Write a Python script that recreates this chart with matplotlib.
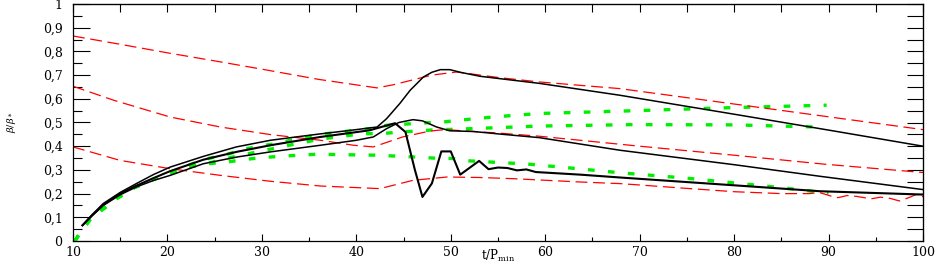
import matplotlib
matplotlib.use("Agg")
import matplotlib.pyplot as plt
from matplotlib.ticker import MultipleLocator, FuncFormatter

plt.rcParams['font.family'] = ['DejaVu Serif']
plt.rcParams['mathtext.fontset'] = 'dejavuserif'

# --- red dashed curves ---
red_top_x = [10, 15, 20, 25, 30, 36, 42.2, 44, 46, 48, 50.6, 52, 55, 59.4, 67.9, 80, 90, 100]
red_top_y = [0.865, 0.83, 0.794, 0.76, 0.725, 0.682, 0.646, 0.66, 0.68, 0.70, 0.713, 0.706, 0.69, 0.671,
             0.643, 0.578, 0.524, 0.47]

red_mid_x = [10, 14.3, 20.3, 25.6, 30.9, 36.2, 39.7, 41.8, 44.9, 47.8, 49.4, 52, 54.9, 59.4, 70, 80, 89.6, 100]
red_mid_y = [0.653, 0.594, 0.523, 0.481, 0.449, 0.425, 0.404, 0.397, 0.439, 0.464, 0.47, 0.463, 0.456, 0.442,
             0.40, 0.362, 0.324, 0.289]

red_bot_x = [10, 15, 20.3, 25.6, 30.9, 36.2, 42.5, 46, 49.6, 53, 56.6, 63.7, 68, 75, 80, 85, 88, 89, 90.3,
             91, 92, 93, 94.5, 95.5, 96.5, 97.5, 98.5, 99.2, 100]
red_bot_y = [0.397, 0.34, 0.305, 0.277, 0.252, 0.232, 0.221, 0.256, 0.27, 0.268, 0.263, 0.249, 0.242, 0.222,
             0.208, 0.20, 0.2, 0.205, 0.189, 0.183, 0.192, 0.188, 0.178, 0.185, 0.18, 0.169, 0.183, 0.195, 0.187]

# --- black solid curves ---
blk_top_x = [11, 12, 13.2, 15, 16.7, 18.5, 20.3, 23.8, 27.3, 30.9, 34.4, 36.2, 40, 42.2, 43.2, 44.6, 45.7,
             47.1, 48, 48.9, 49.9, 51, 53.1, 59.4, 67.9, 80, 90, 100]
blk_top_y = [0.066, 0.11, 0.158, 0.205, 0.242, 0.28, 0.312, 0.357, 0.397, 0.425, 0.443, 0.452, 0.47, 0.481,
             0.516, 0.58, 0.636, 0.692, 0.712, 0.723, 0.723, 0.712, 0.695, 0.665, 0.615, 0.535, 0.468, 0.40]

blk_mid_x = [11, 12, 13.2, 15, 16.7, 18.5, 20.3, 23.8, 27.3, 30.9, 36.2, 40, 41.8, 43.2, 44.5, 46, 47, 48.5,
             49.9, 52.4, 55, 59.4, 67.9, 80, 89.1, 100]
blk_mid_y = [0.066, 0.105, 0.15, 0.195, 0.228, 0.255, 0.277, 0.326, 0.354, 0.376, 0.404, 0.425, 0.439, 0.474,
             0.50, 0.512, 0.507, 0.481, 0.465, 0.462, 0.452, 0.436, 0.383, 0.322, 0.273, 0.217]

blk_jag_x = [11, 12, 13.2, 15, 16.7, 18.5, 20.3, 23.8, 27.3, 30.9, 36.2, 41.4, 43, 44.1, 45.2, 46.2, 47, 48,
             49, 50, 51, 53, 54, 55, 56, 57, 58, 59, 63.7, 67.9, 80, 89.1, 100]
blk_jag_y = [0.066, 0.108, 0.152, 0.2, 0.233, 0.265, 0.295, 0.343, 0.376, 0.404, 0.439, 0.467, 0.485, 0.497,
             0.46, 0.30, 0.186, 0.243, 0.378, 0.378, 0.28, 0.338, 0.303, 0.31, 0.308, 0.298, 0.302, 0.291,
             0.28, 0.268, 0.235, 0.21, 0.196]

# --- green dotted curves ---
grn_top_x = [10.2, 10.7, 11.8, 12.5, 13.4, 14.3, 15.2, 16, 17.3, 18.5, 19.9, 21.3, 22.2, 24, 26.6, 28, 29.8,
             31.6, 33, 34.4, 36.2, 41.4, 43.2, 47, 49.2, 50.7, 55, 59.4, 68.8, 80, 89.8]
grn_top_y = [0.0, 0.031, 0.09, 0.116, 0.141, 0.172, 0.193, 0.217, 0.239, 0.26, 0.281, 0.301, 0.319, 0.345,
             0.369, 0.386, 0.401, 0.411, 0.425, 0.436, 0.45, 0.474, 0.488, 0.498, 0.502, 0.509, 0.525, 0.538,
             0.549, 0.563, 0.573]

grn_mid_x = [10.2, 10.7, 11.8, 12.5, 13.4, 14.3, 15.2, 16, 17.3, 18.5, 19.9, 22, 24.5, 27, 30, 33, 36.2,
             40.7, 42.7, 44.6, 46.5, 48.5, 50.2, 59.4, 69.2, 80, 88.8]
grn_mid_y = [0.0, 0.031, 0.09, 0.116, 0.141, 0.172, 0.193, 0.217, 0.239, 0.26, 0.281, 0.31, 0.33, 0.355,
             0.38, 0.405, 0.43, 0.453, 0.453, 0.46, 0.464, 0.47, 0.471, 0.485, 0.491, 0.49, 0.481]

grn_bot_x = [10.2, 10.7, 11.8, 12.5, 13.4, 14.3, 15.2, 16, 17.3, 18.5, 19.9, 22, 24, 26.3, 28, 30, 31.9,
             33.9, 35.8, 42.2, 46.4, 48.1, 50.2, 52, 58, 61.6, 67.9, 75, 80, 85, 90]
grn_bot_y = [0.0, 0.031, 0.09, 0.116, 0.141, 0.172, 0.193, 0.217, 0.239, 0.26, 0.281, 0.31, 0.325, 0.333,
             0.343, 0.352, 0.357, 0.362, 0.366, 0.362, 0.354, 0.35, 0.348, 0.338, 0.325, 0.312, 0.288, 0.265,
             0.245, 0.225, 0.202]

W, H = 943, 266
fig = plt.figure(figsize=(W / 100, H / 100), dpi=100)
ax = fig.add_axes([73 / W, 25 / H, 850 / W, 237 / H])

green_kw = dict(color="#00ee00", lw=2.4, dashes=(2.0, 4.0), dash_capstyle="butt")
for gx, gy in [(grn_top_x, grn_top_y), (grn_mid_x, grn_mid_y), (grn_bot_x, grn_bot_y)]:
    ax.plot(gx, gy, **green_kw)

red_kw = dict(color="#ff0000", lw=0.9, dashes=(9.5, 4.5))
for rx, ry in [(red_top_x, red_top_y), (red_mid_x, red_mid_y), (red_bot_x, red_bot_y)]:
    ax.plot(rx, ry, **red_kw)

ax.plot(blk_top_x, blk_top_y, color="black", lw=1.1)
ax.plot(blk_mid_x, blk_mid_y, color="black", lw=1.1)
ax.plot(blk_jag_x, blk_jag_y, color="black", lw=1.5)

ax.set_xlim(10, 100)
ax.set_ylim(0, 1)

for s in ax.spines.values():
    s.set_linewidth(0.9)

def ylab(v, pos):
    if abs(v) < 1e-9:
        return "0"
    if abs(v - 1) < 1e-9:
        return "1"
    return f"{v:.1f}".replace(".", ",")

ax.xaxis.set_major_locator(MultipleLocator(10))
ax.xaxis.set_minor_locator(MultipleLocator(5))
ax.yaxis.set_major_locator(MultipleLocator(0.1))
ax.yaxis.set_minor_locator(MultipleLocator(0.05))
ax.yaxis.set_major_formatter(FuncFormatter(ylab))

ax.tick_params(axis="x", which="major", direction="in", length=5, width=0.8, labelsize=9, pad=3.5,
               top=False)
ax.tick_params(axis="x", which="minor", direction="in", length=2.9, width=0.8, top=False)
ax.tick_params(axis="y", which="major", direction="in", length=12.2, width=0.8, labelsize=9, pad=7.5,
               right=False)
ax.tick_params(axis="y", which="minor", direction="in", length=6.2, width=0.8, right=False)

# top and right ticks have their own lengths
top = ax.secondary_xaxis("top")
top.xaxis.set_major_locator(MultipleLocator(5))
top.tick_params(direction="in", length=5.8, width=0.8, labeltop=False)

right = ax.secondary_yaxis("right")
right.yaxis.set_major_locator(MultipleLocator(0.05))
right.tick_params(direction="in", length=11.5, width=0.8, labelright=False)

ax.set_xlabel(r"$\mathrm{t/P_{min}}$", fontsize=8.5, va="center")
ax.xaxis.set_label_coords(0.5, -0.064)
fig.text(11 / W, 1 - 122 / H, r"$\beta/\beta_*$", rotation=90, fontsize=7, ha="center", va="center")

fig.savefig("out.png", dpi=100)
